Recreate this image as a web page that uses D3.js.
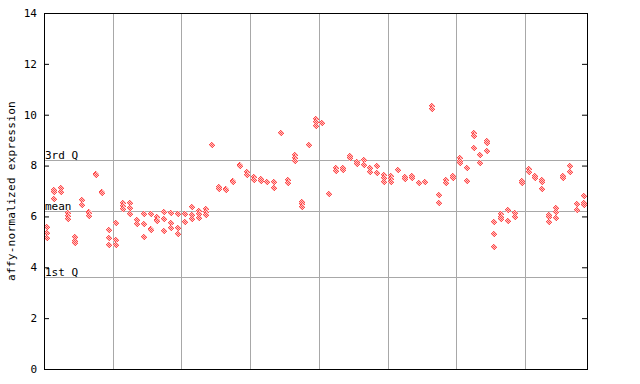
<!DOCTYPE html>
<html>
<head>
<meta charset="utf-8">
<script src="https://cdn.jsdelivr.net/npm/d3@7"></script>
<style>
  body { margin: 0; background: #fff; }
  text { font-family: "DejaVu Sans Mono", monospace; }
</style>
</head>
<body>
<svg id="chart" width="640" height="384"></svg>
<script>
// expression values per sample (several probes/replicates each)
const expr = [
  [5.60, 5.34, 5.14], [7.05, 6.95, 6.70], [7.13, 6.95], [6.15, 6.02, 5.90],
  [5.20, 5.05, 4.94], [6.65, 6.45], [6.16, 6.14, 6.02], [7.65, 7.63],
  [6.97, 6.91], [5.47, 5.14, 4.86], [5.73, 5.07, 4.86], [6.54, 6.41, 6.28],
  [6.54, 6.32, 6.08], [5.86, 5.70], [6.08, 5.70, 5.18], [6.08, 5.49, 5.47],
  [5.98, 5.86, 5.83], [6.16, 5.89, 5.44], [6.12, 5.75, 5.56], [6.08, 5.53, 5.30],
  [6.08, 5.79, 5.77], [6.37, 6.06, 5.90], [6.22, 6.08, 5.95], [6.29, 6.16, 6.06],
  [8.81], [7.17, 7.08], [7.06, 7.04], [7.39, 7.37],
  [8.02, 8.00], [7.76, 7.63], [7.56, 7.43], [7.47, 7.40],
  [7.37, 7.35], [7.35, 7.13], [9.29], [7.43, 7.30],
  [8.40, 8.28, 8.18], [6.58, 6.49, 6.38], [8.81, 8.79], [9.82, 9.70, 9.56],
  [9.69, 9.67], [6.87], [7.89, 7.80], [7.92, 7.83],
  [8.38, 8.28], [8.16, 8.06], [8.22, 8.01], [7.89, 7.73],
  [7.99, 7.69], [7.63, 7.50, 7.37], [7.59, 7.46, 7.37], [7.83, 7.81],
  [7.56, 7.47], [7.60, 7.50], [7.30], [7.37, 7.35],
  [10.34, 10.22], [6.84, 6.52], [7.43, 7.33], [7.60, 7.52],
  [8.28, 8.19, 8.09], [7.92, 7.40], [9.27, 9.16, 8.68], [8.40, 8.11],
  [8.97, 8.87, 8.56], [5.77, 5.30, 4.78], [6.10, 5.99, 5.91], [6.25, 5.83, 5.81],
  [6.15, 6.13, 5.96], [7.40, 7.38, 7.30], [7.87, 7.85, 7.76], [7.59, 7.50],
  [7.43, 7.37, 7.06], [6.06, 5.96, 5.79], [6.32, 6.16, 5.93], [7.60, 7.52],
  [7.98, 7.76], [6.47, 6.25], [6.80, 6.54, 6.45]
]
const yTicks = [0, 2, 4, 6, 8, 10, 12, 14]
const refLines = [
  {label: '3rd Q', value: 8.22},
  {label: 'mean', value: 6.21},
  {label: '1st Q', value: 3.61}
]
const groupEvery = 10

const width = 640
const height = 384
const margin = {left: 44, right: 53, top: 13, bottom: 15}
const plotW = width - margin.left - margin.right
const plotH = height - margin.top - margin.bottom

const svg = d3.select('#chart')

const defs = svg.append('defs')
const pat = defs.append('pattern')
    .attr('id', 'checker')
    .attr('patternUnits', 'userSpaceOnUse')
    .attr('width', 2).attr('height', 2)
pat.append('rect').attr('width', 2).attr('height', 2).attr('fill', '#ffc4c4')
pat.append('rect').attr('x', 0).attr('y', 0).attr('width', 1).attr('height', 1).attr('fill', '#ff4a4a')
pat.append('rect').attr('x', 1).attr('y', 1).attr('width', 1).attr('height', 1).attr('fill', '#ff4a4a')

const g = svg.append('g').attr('transform', `translate(${margin.left},${margin.top})`)

const xScale = d3.scaleBand().domain(d3.range(expr.length)).range([0, plotW]).paddingInner(0)
const yScale = d3.scaleLinear().domain([0, 14]).range([plotH, 0])

// vertical group separators
const groupLines = d3.range(groupEvery, expr.length, groupEvery)
g.append('g')
    .selectAll('line')
    .data(groupLines)
    .enter()
    .append('line')
    .attr('x1', d => Math.round(xScale(d)) + 0.5)
    .attr('x2', d => Math.round(xScale(d)) + 0.5)
    .attr('y1', 0)
    .attr('y2', plotH)
    .attr('stroke', '#a8a8a8')
    .attr('stroke-width', 1)

// quartile / mean lines
const refG = g.append('g')
refG.selectAll('line')
    .data(refLines)
    .enter()
    .append('line')
    .attr('x1', 0)
    .attr('x2', plotW)
    .attr('y1', d => Math.round(yScale(d.value)) + 0.5)
    .attr('y2', d => Math.round(yScale(d.value)) + 0.5)
    .attr('stroke', '#a8a8a8')
    .attr('stroke-width', 1)
refG.selectAll('text')
    .data(refLines)
    .enter()
    .append('text')
    .attr('x', 1)
    .attr('y', d => Math.round(yScale(d.value)) - 1)
    .attr('font-size', 11)
    .attr('fill', '#000')
    .text(d => d.label)

// points
const points = []
expr.forEach((vals, i) => vals.forEach(v => points.push({i, v})))
const diamond = 'M0,-4L3,0L0,4L-3,0Z'
g.append('g')
    .selectAll('path')
    .data(points)
    .enter()
    .append('path')
    .attr('d', diamond)
    .attr('transform', d => `translate(${Math.round(xScale(d.i) + xScale.bandwidth() / 2)},${Math.round(yScale(d.v))})`)
    .attr('fill', 'url(#checker)')
    .attr('shape-rendering', 'crispEdges')

// left axis, ticks pointing inward
const yAxis = g.append('g')
    .call(d3.axisRight(yScale).tickValues(yTicks).tickSize(5).tickFormat(''))
yAxis.select('.domain').remove()
yAxis.selectAll('line').attr('stroke', '#000')
g.append('g')
    .selectAll('text')
    .data(yTicks)
    .enter()
    .append('text')
    .attr('x', -7)
    .attr('y', d => yScale(d))
    .attr('dy', '0.35em')
    .attr('text-anchor', 'end')
    .attr('font-size', 11)
    .text(d => d)

// right axis ticks
const rAxis = g.append('g')
    .attr('transform', `translate(${plotW},0)`)
    .call(d3.axisLeft(yScale).tickValues(yTicks).tickSize(5).tickFormat(''))
rAxis.select('.domain').remove()
rAxis.selectAll('line').attr('stroke', '#000')

// frame
g.append('rect')
    .attr('x', 0.5).attr('y', 0.5)
    .attr('width', plotW).attr('height', plotH)
    .attr('fill', 'none')
    .attr('stroke', '#000')

svg.append('text')
    .attr('transform', `translate(15,${margin.top + plotH / 2}) rotate(-90)`)
    .attr('text-anchor', 'middle')
    .attr('font-size', 11)
    .attr('letter-spacing', 0.3)
    .text('affy-normalized expression')
</script>
</body>
</html>
